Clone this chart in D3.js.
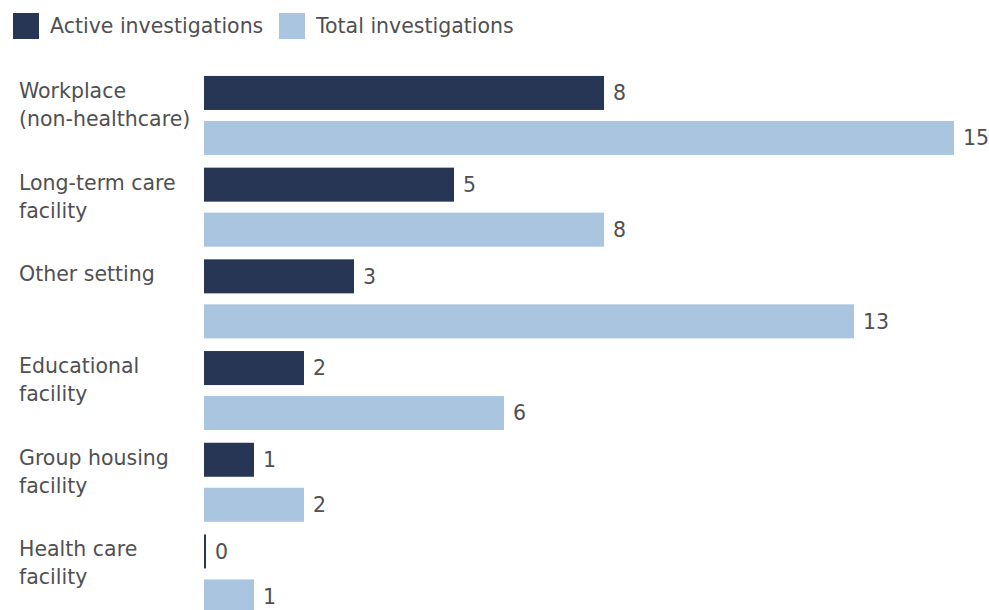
<!DOCTYPE html>
<html>
<head>
<meta charset="utf-8">
<script src="https://cdn.jsdelivr.net/npm/d3@7"></script>
<style>
  body { margin: 0; background: #fff; }
  svg { display: block; }
  text { font-family: "DejaVu Sans", Verdana, sans-serif; fill: #505050; }
</style>
</head>
<body>
<div id="chart"></div>
<script>
// chart data
const categories = [
  ['Workplace', '(non-healthcare)'],
  ['Long-term care', 'facility'],
  ['Other setting'],
  ['Educational', 'facility'],
  ['Group housing', 'facility'],
  ['Health care', 'facility']
];
const seriesNames = ['Active investigations', 'Total investigations'];
const activeValues = [8, 5, 3, 2, 1, 0];
const totalValues = [15, 8, 13, 6, 2, 1];
const colors = ['#283655', '#a9c5e0'];

const width = 989;
const height = 610;
const fontSize = 20.5;

const svg = d3.select('#chart')
  .append('svg')
  .attr('width', width)
  .attr('height', height);

const keys = categories.map((c) => c.join(' '));

// one band per category, two bars inside
const y0 = d3.scaleBand()
  .domain(keys)
  .range([69.6, 69.6 + 6 * 91.7]);

const y1 = d3.scaleBand()
  .domain(seriesNames)
  .range([0, y0.bandwidth()])
  .paddingInner(0.244)
  .paddingOuter(0.141);

const x = d3.scaleLinear().domain([0, 15]).range([204, 954]);

const color = d3.scaleOrdinal().domain(seriesNames).range(colors);

// legend
const legend = svg.append('g').attr('class', 'legend');
const legendX = [13, 279];
seriesNames.forEach((name, i) => {
  legend.append('rect')
    .attr('x', legendX[i])
    .attr('y', 13)
    .attr('width', 26)
    .attr('height', 26)
    .attr('fill', color(name));
  legend.append('text')
    .attr('x', legendX[i] + 37)
    .attr('y', 26)
    .attr('dy', '0.35em')
    .style('font-size', fontSize + 'px')
    .text(name);
});

const rows = keys.map((k, i) => ({
  key: k,
  lines: categories[i],
  values: [
    {name: seriesNames[0], value: activeValues[i]},
    {name: seriesNames[1], value: totalValues[i]}
  ]
}));

const groups = svg.selectAll('g.group')
  .data(rows)
  .enter()
  .append('g')
  .attr('class', 'group')
  .attr('transform', (d) => `translate(0,${y0(d.key)})`);

// category labels on the left
groups.append('text')
  .attr('x', 19)
  .attr('y', y1(seriesNames[0]))
  .style('font-size', fontSize + 'px')
  .selectAll('tspan')
  .data((d) => d.lines)
  .enter()
  .append('tspan')
  .attr('x', 19)
  .attr('dy', (d, i) => i === 0 ? 22 : 28)
  .text((d) => d);

groups.selectAll('rect')
  .data((d) => d.values)
  .enter()
  .append('rect')
  .attr('x', x(0))
  .attr('y', (d) => y1(d.name))
  .attr('height', y1.bandwidth())
  .attr('width', (d) => Math.max(x(d.value) - x(0), 2))
  .attr('fill', (d) => color(d.name));

groups.selectAll('text.value')
  .data((d) => d.values)
  .enter()
  .append('text')
  .attr('class', 'value')
  .attr('x', (d) => Math.max(x(d.value), x(0) + 2) + 9)
  .attr('y', (d) => y1(d.name) + y1.bandwidth() / 2)
  .attr('dy', '0.35em')
  .style('font-size', fontSize + 'px')
  .text((d) => d.value);
</script>
</body>
</html>
